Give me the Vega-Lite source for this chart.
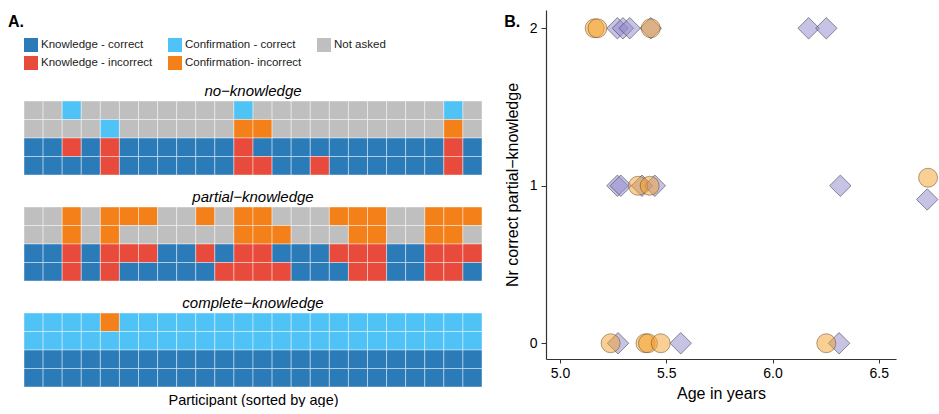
{
  "$schema": "https://vega.github.io/schema/vega-lite/v6.json",
  "padding": {"left": 8, "top": 10, "right": 0, "bottom": 0},
  "background": "white",
  "config": {
    "font": "Liberation Sans",
    "view": {"stroke": null},
    "title": {"font": "Liberation Sans", "color": "black"},
    "axis": {"labelFont": "Liberation Sans", "titleFont": "Liberation Sans", "labelColor": "black", "titleColor": "black", "titleFontWeight": "normal", "grid": false, "domainColor": "#333", "tickColor": "#333"}
  },
  "datasets": {
    "heat": [
      {"k":"no","r":1,"p":1,"s":"NA"},{"k":"no","r":1,"p":2,"s":"NA"},{"k":"no","r":1,"p":3,"s":"CC"},{"k":"no","r":1,"p":4,"s":"NA"},{"k":"no","r":1,"p":5,"s":"NA"},{"k":"no","r":1,"p":6,"s":"NA"},{"k":"no","r":1,"p":7,"s":"NA"},{"k":"no","r":1,"p":8,"s":"NA"},{"k":"no","r":1,"p":9,"s":"NA"},{"k":"no","r":1,"p":10,"s":"NA"},{"k":"no","r":1,"p":11,"s":"NA"},{"k":"no","r":1,"p":12,"s":"CC"},{"k":"no","r":1,"p":13,"s":"NA"},{"k":"no","r":1,"p":14,"s":"NA"},{"k":"no","r":1,"p":15,"s":"NA"},{"k":"no","r":1,"p":16,"s":"NA"},{"k":"no","r":1,"p":17,"s":"NA"},{"k":"no","r":1,"p":18,"s":"NA"},{"k":"no","r":1,"p":19,"s":"NA"},{"k":"no","r":1,"p":20,"s":"NA"},{"k":"no","r":1,"p":21,"s":"NA"},{"k":"no","r":1,"p":22,"s":"NA"},{"k":"no","r":1,"p":23,"s":"CC"},{"k":"no","r":1,"p":24,"s":"NA"},
      {"k":"no","r":2,"p":1,"s":"NA"},{"k":"no","r":2,"p":2,"s":"NA"},{"k":"no","r":2,"p":3,"s":"NA"},{"k":"no","r":2,"p":4,"s":"NA"},{"k":"no","r":2,"p":5,"s":"CC"},{"k":"no","r":2,"p":6,"s":"NA"},{"k":"no","r":2,"p":7,"s":"NA"},{"k":"no","r":2,"p":8,"s":"NA"},{"k":"no","r":2,"p":9,"s":"NA"},{"k":"no","r":2,"p":10,"s":"NA"},{"k":"no","r":2,"p":11,"s":"NA"},{"k":"no","r":2,"p":12,"s":"CI"},{"k":"no","r":2,"p":13,"s":"CI"},{"k":"no","r":2,"p":14,"s":"NA"},{"k":"no","r":2,"p":15,"s":"NA"},{"k":"no","r":2,"p":16,"s":"NA"},{"k":"no","r":2,"p":17,"s":"NA"},{"k":"no","r":2,"p":18,"s":"NA"},{"k":"no","r":2,"p":19,"s":"NA"},{"k":"no","r":2,"p":20,"s":"NA"},{"k":"no","r":2,"p":21,"s":"NA"},{"k":"no","r":2,"p":22,"s":"NA"},{"k":"no","r":2,"p":23,"s":"CI"},{"k":"no","r":2,"p":24,"s":"NA"},
      {"k":"no","r":3,"p":1,"s":"KC"},{"k":"no","r":3,"p":2,"s":"KC"},{"k":"no","r":3,"p":3,"s":"KI"},{"k":"no","r":3,"p":4,"s":"KC"},{"k":"no","r":3,"p":5,"s":"KI"},{"k":"no","r":3,"p":6,"s":"KC"},{"k":"no","r":3,"p":7,"s":"KC"},{"k":"no","r":3,"p":8,"s":"KC"},{"k":"no","r":3,"p":9,"s":"KC"},{"k":"no","r":3,"p":10,"s":"KC"},{"k":"no","r":3,"p":11,"s":"KC"},{"k":"no","r":3,"p":12,"s":"KI"},{"k":"no","r":3,"p":13,"s":"KC"},{"k":"no","r":3,"p":14,"s":"KC"},{"k":"no","r":3,"p":15,"s":"KC"},{"k":"no","r":3,"p":16,"s":"KC"},{"k":"no","r":3,"p":17,"s":"KC"},{"k":"no","r":3,"p":18,"s":"KC"},{"k":"no","r":3,"p":19,"s":"KC"},{"k":"no","r":3,"p":20,"s":"KC"},{"k":"no","r":3,"p":21,"s":"KC"},{"k":"no","r":3,"p":22,"s":"KC"},{"k":"no","r":3,"p":23,"s":"KI"},{"k":"no","r":3,"p":24,"s":"KC"},
      {"k":"no","r":4,"p":1,"s":"KC"},{"k":"no","r":4,"p":2,"s":"KC"},{"k":"no","r":4,"p":3,"s":"KC"},{"k":"no","r":4,"p":4,"s":"KC"},{"k":"no","r":4,"p":5,"s":"KI"},{"k":"no","r":4,"p":6,"s":"KC"},{"k":"no","r":4,"p":7,"s":"KC"},{"k":"no","r":4,"p":8,"s":"KC"},{"k":"no","r":4,"p":9,"s":"KC"},{"k":"no","r":4,"p":10,"s":"KC"},{"k":"no","r":4,"p":11,"s":"KC"},{"k":"no","r":4,"p":12,"s":"KI"},{"k":"no","r":4,"p":13,"s":"KI"},{"k":"no","r":4,"p":14,"s":"KC"},{"k":"no","r":4,"p":15,"s":"KC"},{"k":"no","r":4,"p":16,"s":"KI"},{"k":"no","r":4,"p":17,"s":"KC"},{"k":"no","r":4,"p":18,"s":"KC"},{"k":"no","r":4,"p":19,"s":"KC"},{"k":"no","r":4,"p":20,"s":"KC"},{"k":"no","r":4,"p":21,"s":"KC"},{"k":"no","r":4,"p":22,"s":"KC"},{"k":"no","r":4,"p":23,"s":"KI"},{"k":"no","r":4,"p":24,"s":"KC"},
      {"k":"pa","r":1,"p":1,"s":"NA"},{"k":"pa","r":1,"p":2,"s":"NA"},{"k":"pa","r":1,"p":3,"s":"CI"},{"k":"pa","r":1,"p":4,"s":"NA"},{"k":"pa","r":1,"p":5,"s":"CI"},{"k":"pa","r":1,"p":6,"s":"CI"},{"k":"pa","r":1,"p":7,"s":"CI"},{"k":"pa","r":1,"p":8,"s":"NA"},{"k":"pa","r":1,"p":9,"s":"NA"},{"k":"pa","r":1,"p":10,"s":"CI"},{"k":"pa","r":1,"p":11,"s":"NA"},{"k":"pa","r":1,"p":12,"s":"CI"},{"k":"pa","r":1,"p":13,"s":"CI"},{"k":"pa","r":1,"p":14,"s":"NA"},{"k":"pa","r":1,"p":15,"s":"NA"},{"k":"pa","r":1,"p":16,"s":"NA"},{"k":"pa","r":1,"p":17,"s":"CI"},{"k":"pa","r":1,"p":18,"s":"CI"},{"k":"pa","r":1,"p":19,"s":"CI"},{"k":"pa","r":1,"p":20,"s":"NA"},{"k":"pa","r":1,"p":21,"s":"NA"},{"k":"pa","r":1,"p":22,"s":"CI"},{"k":"pa","r":1,"p":23,"s":"CI"},{"k":"pa","r":1,"p":24,"s":"CI"},
      {"k":"pa","r":2,"p":1,"s":"NA"},{"k":"pa","r":2,"p":2,"s":"NA"},{"k":"pa","r":2,"p":3,"s":"CI"},{"k":"pa","r":2,"p":4,"s":"NA"},{"k":"pa","r":2,"p":5,"s":"CI"},{"k":"pa","r":2,"p":6,"s":"NA"},{"k":"pa","r":2,"p":7,"s":"NA"},{"k":"pa","r":2,"p":8,"s":"NA"},{"k":"pa","r":2,"p":9,"s":"NA"},{"k":"pa","r":2,"p":10,"s":"NA"},{"k":"pa","r":2,"p":11,"s":"NA"},{"k":"pa","r":2,"p":12,"s":"CI"},{"k":"pa","r":2,"p":13,"s":"CI"},{"k":"pa","r":2,"p":14,"s":"CI"},{"k":"pa","r":2,"p":15,"s":"NA"},{"k":"pa","r":2,"p":16,"s":"NA"},{"k":"pa","r":2,"p":17,"s":"NA"},{"k":"pa","r":2,"p":18,"s":"CI"},{"k":"pa","r":2,"p":19,"s":"CI"},{"k":"pa","r":2,"p":20,"s":"NA"},{"k":"pa","r":2,"p":21,"s":"NA"},{"k":"pa","r":2,"p":22,"s":"CI"},{"k":"pa","r":2,"p":23,"s":"CI"},{"k":"pa","r":2,"p":24,"s":"NA"},
      {"k":"pa","r":3,"p":1,"s":"KC"},{"k":"pa","r":3,"p":2,"s":"KC"},{"k":"pa","r":3,"p":3,"s":"KI"},{"k":"pa","r":3,"p":4,"s":"KC"},{"k":"pa","r":3,"p":5,"s":"KI"},{"k":"pa","r":3,"p":6,"s":"KI"},{"k":"pa","r":3,"p":7,"s":"KI"},{"k":"pa","r":3,"p":8,"s":"KC"},{"k":"pa","r":3,"p":9,"s":"KC"},{"k":"pa","r":3,"p":10,"s":"KI"},{"k":"pa","r":3,"p":11,"s":"KC"},{"k":"pa","r":3,"p":12,"s":"KI"},{"k":"pa","r":3,"p":13,"s":"KI"},{"k":"pa","r":3,"p":14,"s":"KC"},{"k":"pa","r":3,"p":15,"s":"KC"},{"k":"pa","r":3,"p":16,"s":"KC"},{"k":"pa","r":3,"p":17,"s":"KI"},{"k":"pa","r":3,"p":18,"s":"KI"},{"k":"pa","r":3,"p":19,"s":"KI"},{"k":"pa","r":3,"p":20,"s":"KC"},{"k":"pa","r":3,"p":21,"s":"KC"},{"k":"pa","r":3,"p":22,"s":"KI"},{"k":"pa","r":3,"p":23,"s":"KI"},{"k":"pa","r":3,"p":24,"s":"KI"},
      {"k":"pa","r":4,"p":1,"s":"KC"},{"k":"pa","r":4,"p":2,"s":"KC"},{"k":"pa","r":4,"p":3,"s":"KI"},{"k":"pa","r":4,"p":4,"s":"KC"},{"k":"pa","r":4,"p":5,"s":"KI"},{"k":"pa","r":4,"p":6,"s":"KC"},{"k":"pa","r":4,"p":7,"s":"KC"},{"k":"pa","r":4,"p":8,"s":"KC"},{"k":"pa","r":4,"p":9,"s":"KC"},{"k":"pa","r":4,"p":10,"s":"KC"},{"k":"pa","r":4,"p":11,"s":"KI"},{"k":"pa","r":4,"p":12,"s":"KI"},{"k":"pa","r":4,"p":13,"s":"KI"},{"k":"pa","r":4,"p":14,"s":"KI"},{"k":"pa","r":4,"p":15,"s":"KC"},{"k":"pa","r":4,"p":16,"s":"KC"},{"k":"pa","r":4,"p":17,"s":"KC"},{"k":"pa","r":4,"p":18,"s":"KI"},{"k":"pa","r":4,"p":19,"s":"KI"},{"k":"pa","r":4,"p":20,"s":"KC"},{"k":"pa","r":4,"p":21,"s":"KC"},{"k":"pa","r":4,"p":22,"s":"KI"},{"k":"pa","r":4,"p":23,"s":"KI"},{"k":"pa","r":4,"p":24,"s":"KC"},
      {"k":"co","r":1,"p":1,"s":"CC"},{"k":"co","r":1,"p":2,"s":"CC"},{"k":"co","r":1,"p":3,"s":"CC"},{"k":"co","r":1,"p":4,"s":"CC"},{"k":"co","r":1,"p":5,"s":"CI"},{"k":"co","r":1,"p":6,"s":"CC"},{"k":"co","r":1,"p":7,"s":"CC"},{"k":"co","r":1,"p":8,"s":"CC"},{"k":"co","r":1,"p":9,"s":"CC"},{"k":"co","r":1,"p":10,"s":"CC"},{"k":"co","r":1,"p":11,"s":"CC"},{"k":"co","r":1,"p":12,"s":"CC"},{"k":"co","r":1,"p":13,"s":"CC"},{"k":"co","r":1,"p":14,"s":"CC"},{"k":"co","r":1,"p":15,"s":"CC"},{"k":"co","r":1,"p":16,"s":"CC"},{"k":"co","r":1,"p":17,"s":"CC"},{"k":"co","r":1,"p":18,"s":"CC"},{"k":"co","r":1,"p":19,"s":"CC"},{"k":"co","r":1,"p":20,"s":"CC"},{"k":"co","r":1,"p":21,"s":"CC"},{"k":"co","r":1,"p":22,"s":"CC"},{"k":"co","r":1,"p":23,"s":"CC"},{"k":"co","r":1,"p":24,"s":"CC"},
      {"k":"co","r":2,"p":1,"s":"CC"},{"k":"co","r":2,"p":2,"s":"CC"},{"k":"co","r":2,"p":3,"s":"CC"},{"k":"co","r":2,"p":4,"s":"CC"},{"k":"co","r":2,"p":5,"s":"CC"},{"k":"co","r":2,"p":6,"s":"CC"},{"k":"co","r":2,"p":7,"s":"CC"},{"k":"co","r":2,"p":8,"s":"CC"},{"k":"co","r":2,"p":9,"s":"CC"},{"k":"co","r":2,"p":10,"s":"CC"},{"k":"co","r":2,"p":11,"s":"CC"},{"k":"co","r":2,"p":12,"s":"CC"},{"k":"co","r":2,"p":13,"s":"CC"},{"k":"co","r":2,"p":14,"s":"CC"},{"k":"co","r":2,"p":15,"s":"CC"},{"k":"co","r":2,"p":16,"s":"CC"},{"k":"co","r":2,"p":17,"s":"CC"},{"k":"co","r":2,"p":18,"s":"CC"},{"k":"co","r":2,"p":19,"s":"CC"},{"k":"co","r":2,"p":20,"s":"CC"},{"k":"co","r":2,"p":21,"s":"CC"},{"k":"co","r":2,"p":22,"s":"CC"},{"k":"co","r":2,"p":23,"s":"CC"},{"k":"co","r":2,"p":24,"s":"CC"},
      {"k":"co","r":3,"p":1,"s":"KC"},{"k":"co","r":3,"p":2,"s":"KC"},{"k":"co","r":3,"p":3,"s":"KC"},{"k":"co","r":3,"p":4,"s":"KC"},{"k":"co","r":3,"p":5,"s":"KC"},{"k":"co","r":3,"p":6,"s":"KC"},{"k":"co","r":3,"p":7,"s":"KC"},{"k":"co","r":3,"p":8,"s":"KC"},{"k":"co","r":3,"p":9,"s":"KC"},{"k":"co","r":3,"p":10,"s":"KC"},{"k":"co","r":3,"p":11,"s":"KC"},{"k":"co","r":3,"p":12,"s":"KC"},{"k":"co","r":3,"p":13,"s":"KC"},{"k":"co","r":3,"p":14,"s":"KC"},{"k":"co","r":3,"p":15,"s":"KC"},{"k":"co","r":3,"p":16,"s":"KC"},{"k":"co","r":3,"p":17,"s":"KC"},{"k":"co","r":3,"p":18,"s":"KC"},{"k":"co","r":3,"p":19,"s":"KC"},{"k":"co","r":3,"p":20,"s":"KC"},{"k":"co","r":3,"p":21,"s":"KC"},{"k":"co","r":3,"p":22,"s":"KC"},{"k":"co","r":3,"p":23,"s":"KC"},{"k":"co","r":3,"p":24,"s":"KC"},
      {"k":"co","r":4,"p":1,"s":"KC"},{"k":"co","r":4,"p":2,"s":"KC"},{"k":"co","r":4,"p":3,"s":"KC"},{"k":"co","r":4,"p":4,"s":"KC"},{"k":"co","r":4,"p":5,"s":"KC"},{"k":"co","r":4,"p":6,"s":"KC"},{"k":"co","r":4,"p":7,"s":"KC"},{"k":"co","r":4,"p":8,"s":"KC"},{"k":"co","r":4,"p":9,"s":"KC"},{"k":"co","r":4,"p":10,"s":"KC"},{"k":"co","r":4,"p":11,"s":"KC"},{"k":"co","r":4,"p":12,"s":"KC"},{"k":"co","r":4,"p":13,"s":"KC"},{"k":"co","r":4,"p":14,"s":"KC"},{"k":"co","r":4,"p":15,"s":"KC"},{"k":"co","r":4,"p":16,"s":"KC"},{"k":"co","r":4,"p":17,"s":"KC"},{"k":"co","r":4,"p":18,"s":"KC"},{"k":"co","r":4,"p":19,"s":"KC"},{"k":"co","r":4,"p":20,"s":"KC"},{"k":"co","r":4,"p":21,"s":"KC"},{"k":"co","r":4,"p":22,"s":"KC"},{"k":"co","r":4,"p":23,"s":"KC"},{"k":"co","r":4,"p":24,"s":"KC"}
    ],
    "pts": [
      {"g":"d","age":5.270,"n":2},{"g":"d","age":5.296,"n":2},{"g":"d","age":5.328,"n":2},{"g":"d","age":5.427,"n":2},{"g":"d","age":6.170,"n":2},{"g":"d","age":6.253,"n":2},
      {"g":"d","age":5.270,"n":1},{"g":"d","age":5.286,"n":1},{"g":"d","age":5.386,"n":1},{"g":"d","age":5.446,"n":1},{"g":"d","age":6.319,"n":1},{"g":"d","age":6.728,"n":0.913},
      {"g":"d","age":5.273,"n":0},{"g":"d","age":5.568,"n":0},{"g":"d","age":6.313,"n":0},
      {"g":"c","age":5.163,"n":2},{"g":"c","age":5.176,"n":2},{"g":"c","age":5.427,"n":2},
      {"g":"c","age":5.367,"n":1},{"g":"c","age":5.422,"n":1},{"g":"c","age":6.732,"n":1.051},
      {"g":"c","age":5.238,"n":0},{"g":"c","age":5.402,"n":0},{"g":"c","age":5.414,"n":0},{"g":"c","age":5.474,"n":0},{"g":"c","age":6.253,"n":0}
    ]
  },
  "hconcat": [
    {
      "spacing": 13,
      "resolve": {"legend": {"color": "independent"}},
      "vconcat": [
        {
          "data": {"name": "heat"},
          "width": 458, "height": 1,
          "title": {"text": "A.", "anchor": "start", "fontSize": 16, "fontWeight": "bold", "dx": -16, "offset": -20},
          "mark": {"type": "rect", "opacity": 0},
          "encoding": {
            "color": {"field": "s", "type": "nominal",
              "scale": {"domain": ["KC","CC","NA","KI","CI"], "range": ["#2b7bb9","#4fc2f6","#bfbfbf","#e84a3c","#f4801a"]},
              "legend": {"title": null, "orient": "bottom", "columns": 3, "direction": "horizontal", "symbolType": "square", "symbolSize": 196, "symbolStrokeWidth": 0, "symbolOpacity": 1, "labelFontSize": 11.5, "labelFont": "Liberation Sans", "labelColor": "#222", "labelOffset": 3, "columnPadding": 15, "rowPadding": 4, "offset": 27,
                "labelExpr": "{'KC':'Knowledge - correct','KI':'Knowledge - incorrect','CC':'Confirmation - correct','CI':'Confirmation- incorrect','NA':'Not asked'}[datum.label]"}}
          }
        },
        {
          "data": {"name": "heat"},
          "transform": [{"filter": "datum.k == 'no'"}],
          "width": 458, "height": 74,
          "title": {"text": "no−knowledge", "fontStyle": "italic", "fontSize": 15, "fontWeight": "normal", "offset": 2},
          "mark": {"type": "rect", "stroke": "white", "strokeWidth": 0.7, "strokeOpacity": 0.6},
          "encoding": {
            "x": {"field": "p", "type": "ordinal", "axis": null},
            "y": {"field": "r", "type": "ordinal", "axis": null},
            "color": {"field": "s", "type": "nominal",
              "scale": {"domain": ["KC","CC","NA","KI","CI"], "range": ["#2b7bb9","#4fc2f6","#bfbfbf","#e84a3c","#f4801a"]},
              "legend": null}
          }
        },
        {
          "data": {"name": "heat"},
          "transform": [{"filter": "datum.k == 'pa'"}],
          "width": 458, "height": 74,
          "title": {"text": "partial−knowledge", "fontStyle": "italic", "fontSize": 15, "fontWeight": "normal", "offset": 2},
          "mark": {"type": "rect", "stroke": "white", "strokeWidth": 0.7, "strokeOpacity": 0.6},
          "encoding": {
            "x": {"field": "p", "type": "ordinal", "axis": null},
            "y": {"field": "r", "type": "ordinal", "axis": null},
            "color": {"field": "s", "type": "nominal",
              "scale": {"domain": ["KC","CC","NA","KI","CI"], "range": ["#2b7bb9","#4fc2f6","#bfbfbf","#e84a3c","#f4801a"]},
              "legend": null}
          }
        },
        {
          "data": {"name": "heat"},
          "transform": [{"filter": "datum.k == 'co'"}],
          "width": 458, "height": 74,
          "title": {"text": "complete−knowledge", "fontStyle": "italic", "fontSize": 15, "fontWeight": "normal", "offset": 2},
          "mark": {"type": "rect", "stroke": "white", "strokeWidth": 0.7, "strokeOpacity": 0.6},
          "encoding": {
            "x": {"field": "p", "type": "ordinal", "axis": {"title": "Participant (sorted by age)", "labels": false, "ticks": false, "domain": false, "titlePadding": 6, "titleFontSize": 14.5}},
            "y": {"field": "r", "type": "ordinal", "axis": null},
            "color": {"field": "s", "type": "nominal",
              "scale": {"domain": ["KC","CC","NA","KI","CI"], "range": ["#2b7bb9","#4fc2f6","#bfbfbf","#e84a3c","#f4801a"]},
              "legend": null}
          }
        }
      ]
    },
    {
      "data": {"name": "pts"},
      "width": 350, "height": 349,
      "title": {"text": "B.", "anchor": "start", "fontSize": 16, "fontWeight": "bold", "offset": -20},
      "encoding": {
        "x": {"field": "age", "type": "quantitative", "scale": {"domain": [4.934, 6.581], "nice": false, "zero": false},
          "axis": {"values": [5, 5.5, 6, 6.5], "format": ".1f", "title": "Age in years", "labelFontSize": 14, "titleFontSize": 16, "tickSize": 4, "labelPadding": 3, "titlePadding": 5, "domainWidth": 1.2}},
        "y": {"field": "n", "type": "quantitative", "scale": {"domain": [-0.1, 2.116], "nice": false, "zero": false},
          "axis": {"values": [0, 1, 2], "format": "d", "title": "Nr correct partial−knowledge", "labelFontSize": 14, "titleFontSize": 16, "tickSize": 5, "labelPadding": 4, "titlePadding": 9, "domainWidth": 1.2}}
      },
      "layer": [
        {
          "transform": [{"filter": "datum.g == 'd'"}],
          "mark": {"type": "point", "shape": "diamond", "filled": true, "size": 460, "fill": "#8f88cb", "fillOpacity": 0.5, "opacity": 1, "stroke": "#3a3a4a", "strokeOpacity": 0.7, "strokeWidth": 0.8}
        },
        {
          "transform": [{"filter": "datum.g == 'c'"}],
          "mark": {"type": "point", "shape": "circle", "filled": true, "size": 360, "fill": "#f49f2a", "fillOpacity": 0.5, "opacity": 1, "stroke": "#5a4020", "strokeOpacity": 0.6, "strokeWidth": 0.8}
        }
      ]
    }
  ],
  "spacing": 21,
  "resolve": {"scale": {"color": "independent"}, "legend": {"color": "independent"}}
}
